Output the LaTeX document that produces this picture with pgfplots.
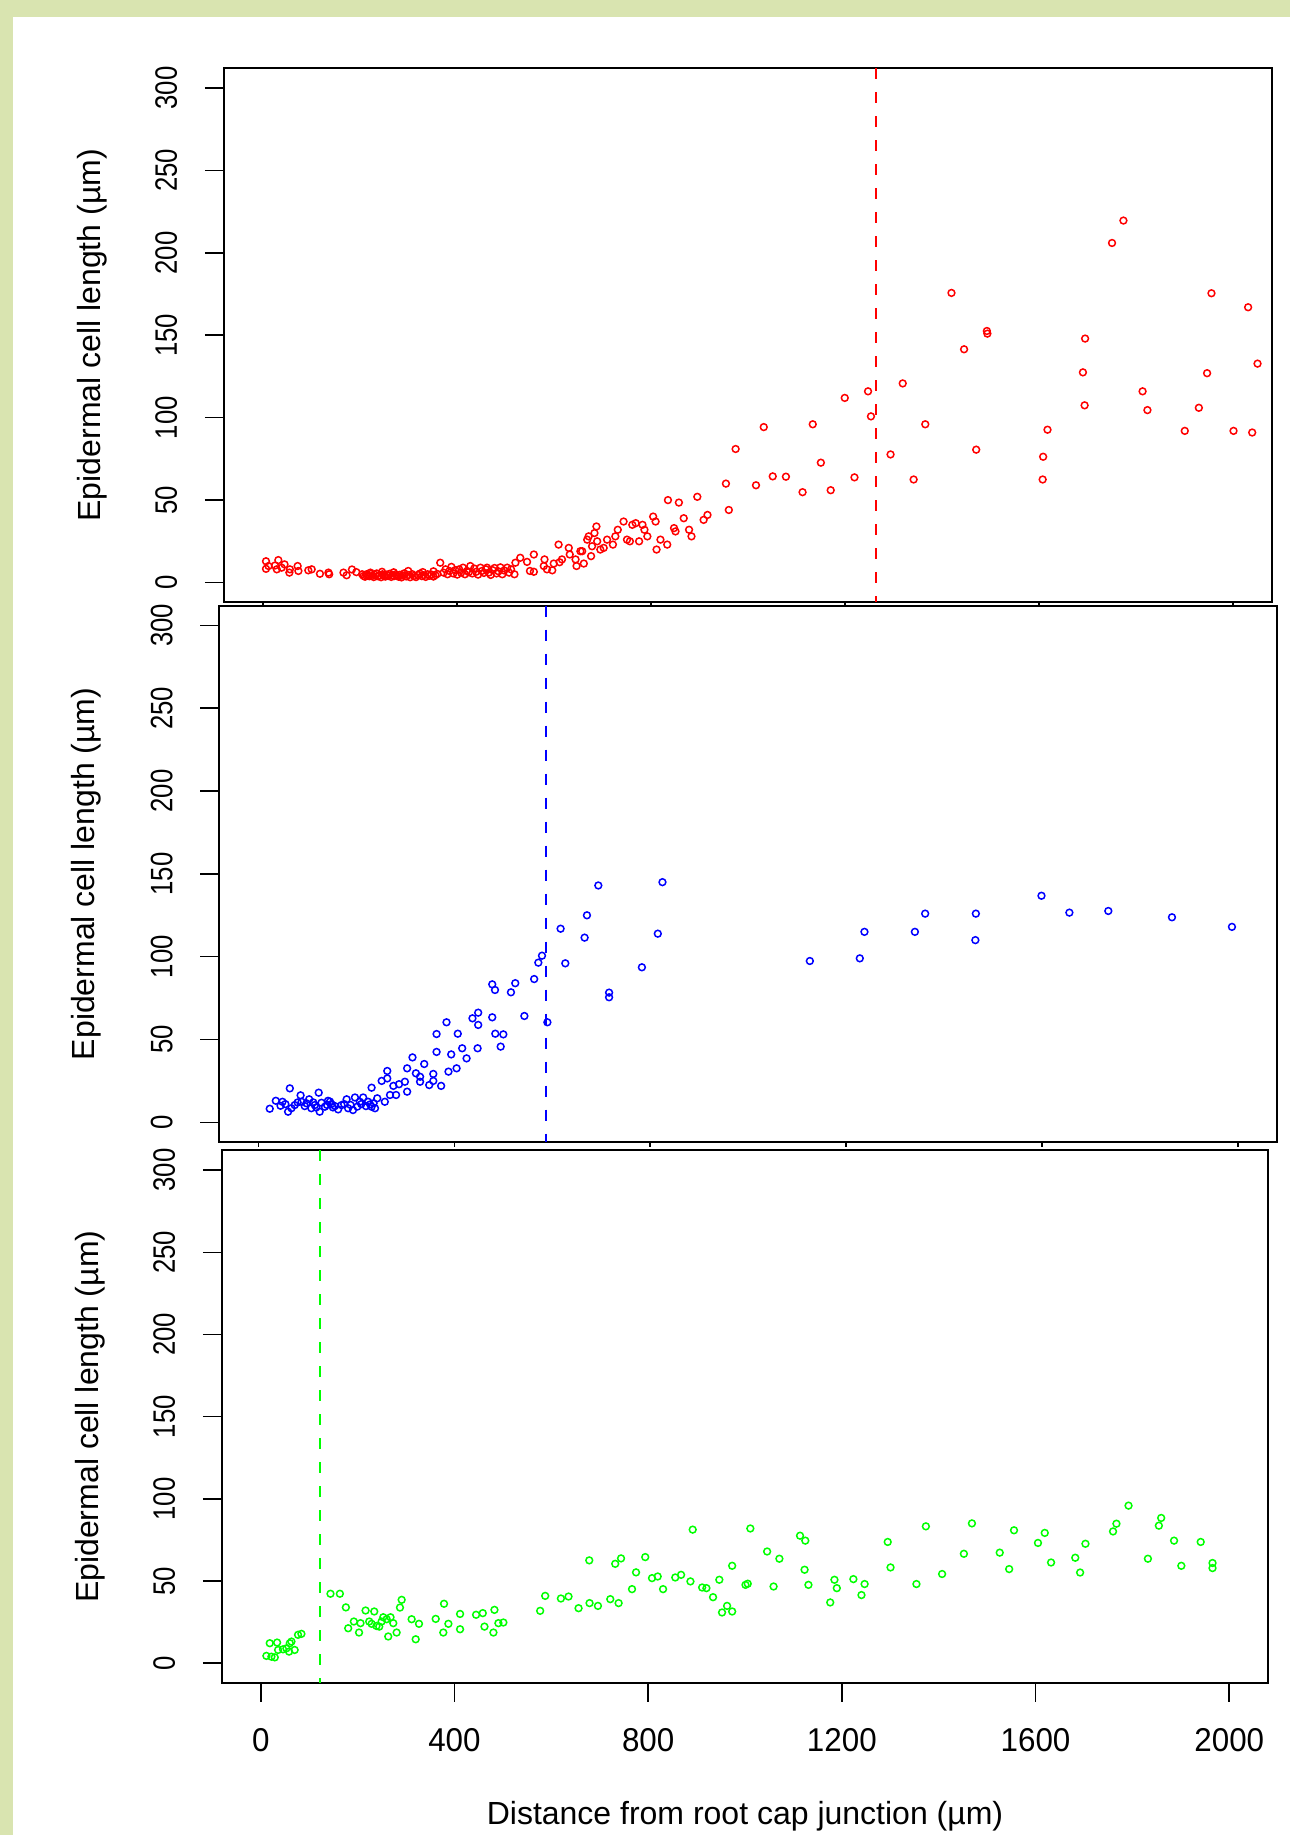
\documentclass[border=0pt]{standalone}
\usepackage{fontspec}
\setmainfont{Liberation Sans}
\newfontfamily\ytf[FakeStretch=0.83]{Liberation Sans}
\newfontfamily\xtf[FakeStretch=0.95]{Liberation Sans}
\usepackage{pgfplots}
\pgfplotsset{compat=1.18}
\definecolor{bgg}{RGB}{217,228,176}
\definecolor{rred}{RGB}{255,0,0}
\definecolor{bblue}{RGB}{0,0,255}
\definecolor{ggreen}{RGB}{0,255,0}
\pgfplotsset{
  panel/.style={
    scale only axis,
    xmin=-80, xmax=2080, ymin=-12, ymax=312,
    xtick={0,400,...,2000}, ytick={0,50,...,300},
    xtick pos=bottom, ytick pos=left,
    tick align=outside,
    major tick length=9.5pt,
    axis line style={line width=1pt},
    every tick/.style={black, line width=0.8pt},
    /pgf/number format/assume math mode=true,
    /pgf/number format/1000 sep={},
    yticklabel style={xshift=-14pt, rotate=90, anchor=base, font=\ytf\fontsize{15.5}{15.5}\selectfont},
    ylabel={Epidermal cell length (µm)},
    ylabel style={font=\fontsize{16}{16}\selectfont, anchor=base, at={(axis description cs:-0.118,0.5)}},
    clip marker paths=true,
  },
  pts/.style={only marks, mark=o, mark size=1.7pt, mark options={line width=0.75pt}},
}
\begin{document}
\begin{tikzpicture}
\fill[bgg] (0,0) rectangle (645pt,917.5pt);
\fill[white] (6.5pt,0) rectangle (645pt,909pt);
% ---------- panel 1 (red)
\begin{scope}
\clip (0,615.25pt) rectangle (645pt,917.5pt);
\begin{axis}[panel, at={(111.95pt,616.35pt)}, anchor=south west, width=523.85pt, height=267pt, xticklabels={}]
\addplot[pts, color=rred] coordinates {
(6.8,12.9) (6.8,8.3) (12,10) (25.4,10.3) (32.2,13.6) (29,8) (39,9) (45,11) (55,6) (56,8) (72,10) (73.6,7) (94,7.4) (101,8) (118,5.3) (135.5,6) (137,5) (166.5,6) (173,4.4) (184,7.9) (193,6.3)
(205,5) (208,4) (211,3.5) (214,5) (217,4.2) (220,3.8) (223,5.2) (226,4) (229,3.3) (232,4.6) (235,5.5) (238,3.8) (241,4.4) (244,3.2) (247,5) (250,4.1) (253,3.6) (256,4.8) (259,4) (262,5.3) (265,3.4) (268,4.4) (271,3.9) (274,5) (277,4.2) (280,3.5) (283,4.7) (286,3.1) (289,4.3) (292,5.6) (296,3.7) (300,4.5) (304,3.2) (308,5.1) (312,4) (316,3.3) (320,4.6) (324,5.4) (328,3.9) (332,4.4) (336,3.4) (340,5) (344,4.1) (348,4.8) (352,3.6) (356,4.5) (360,5.2)
(222,6) (246,6.5) (270,6.2) (300,7) (330,6.3) (352,6.8)
(366,12) (373,6) (377,8) (381,5) (385,7) (389,9.5) (393,5.5) (397,7.5) (401,4.8) (405,8) (409,6) (413,9) (417,5) (421,7) (425,6.3) (428,10) (432,5.5) (436,8.5) (440,6.5) (444,4.8) (449,9) (452,7) (456,5.8) (460,8) (462.5,9) (466,6) (470,4.6) (474,7.5) (478,8.8) (482,5.5) (486,6.8) (490,9.2) (494,5) (498,7.3) (504,9) (508,6) (512,8)
(519,5) (521,12) (531,15) (545,12.5) (551,7) (559,17) (559,6.5) (579.5,10) (581,14) (586,8) (597,7.4) (600,11.5) (610,23) (612,12.3) (617,14) (631,21) (633,17) (645,14) (647,10) (655,19) (658.6,19) (662,11.5) (669,26) (672,28) (677,16) (679,22) (684,30) (688,34) (689.6,25) (696,20) (703,21) (710,26) (722,23) (727,28) (732,32) (744,37) (751,26) (757,25) (762,35) (769,36) (776,25) (783,35) (787,32) (793,28) (805,40) (810,37) (812,20) (820,26) (834,23) (835.5,50) (848,33) (851,31) (858,48.5) (868,39) (879,32) (884,28) (896,52) (909,38) (917,41) (955,60) (961,44) (975,81) (1017,59)
(1033,94.3) (1051.5,64.4) (1078.7,64.2) (1113,54.8) (1134,96) (1150.7,72.7) (1171,56) (1200,112) (1220,63.8) (1248,116) (1254,100.8) (1294.4,77.7) (1319.5,120.8) (1342,62.5) (1366,96) (1420,175.7) (1446,141.5) (1471,80.6) (1493,152.6) (1494,151) (1608,62.5) (1609,76.3) (1618,92.7) (1691,127.5) (1694.5,107.5) (1695.5,148) (1751,206) (1774.5,219.6) (1814,116) (1824,104.6) (1901,92) (1930,106) (1947,127) (1956,175.5) (2001.5,92) (2031.6,167) (2040,91) (2051,132.8) (2082,76.3)
};
\addplot[rred, line width=1pt, dash pattern=on 5.5pt off 6.5pt] coordinates {(1265,312) (1265,-12)};
\end{axis}
\end{scope}
% ---------- panel 2 (blue)
\begin{scope}
\clip (0,344pt) rectangle (645pt,615.25pt);
\begin{axis}[panel, at={(109.65pt,346.4pt)}, anchor=south west, width=528.85pt, height=268.3pt, xticklabels={}]
\addplot[pts, color=bblue] coordinates {
(23,8.2) (35.4,13) (45,10) (49,12.4) (55,11) (60.5,6.4) (64,20.5) (67.3,8.5) (74,10.4) (80,12) (86,16.3) (88,12.4) (94.5,9.8) (98,11.5) (103.5,13.9) (108,8.5) (112,12) (115,10.4) (118,9) (123,17.9) (125,6.4) (128.7,11.8) (135.5,9.4) (140,10.5) (142,13) (146,12.5) (149,11) (152,9) (156,9.8) (162.7,7.8) (169.6,10.4) (175,11) (180,13.9) (183,8.5) (188,10.5) (193,7.4) (197,15) (202,9.5) (207,12.4) (210,11) (213.8,15) (219.5,9.8) (224,12.4) (228,10.8) (231,9.4) (231,20.9) (235,11.5) (238,8.5) (242.6,14.5)
(251.6,25) (258,12.4) (263,31) (263,26.5) (268.6,16.5) (275.5,22) (281,16.5) (287,23) (299,24.5) (303.6,32.6) (303.6,18.5) (314.5,39.2) (321.5,29.6) (330,24.5) (330,27.5) (338.5,35.2) (348.7,22.5) (357,29.2) (357,25) (363.7,53.3) (363.7,42.5) (373,22) (384,60.4) (388,30.6) (393.6,41) (404.6,32.6) (407,53.5) (416,44.7) (425,38.6) (437,62.8) (447.5,44.7) (448.7,66.2) (448.7,58.8) (477.4,83.3) (483,79.9) (477.4,63.4) (483.6,53.5) (500,53.1) (494.6,45.7) (515.6,78.5) (524.4,84) (543,64.2) (563,86.5) (571.5,96.4) (579,100.6) (590,60.4) (617,116.9) (626.6,96) (666,111.5) (670.8,125) (694,143) (716,78.3) (716,75.5) (783,93.6) (815.5,113.9) (825,145)
(1126,97.4) (1228,99) (1237.5,115) (1340.5,115) (1361.5,126) (1465,126) (1464,110) (1599,136.8) (1656,126.6) (1735.5,127.6) (1865.5,123.8) (1988,118)
};
\addplot[bblue, line width=1pt, dash pattern=on 5.5pt off 6.5pt] coordinates {(587,312) (587,-12)};
\end{axis}
\end{scope}
% ---------- panel 3 (green)
\begin{scope}
\clip (0,0) rectangle (645pt,344pt);
\begin{axis}[panel, at={(111pt,76pt)}, anchor=south west, width=523pt, height=266.3pt,
  xticklabel style={font=\xtf\fontsize{16.5}{16.5}\selectfont, anchor=base, yshift=-25pt},
  xlabel={Distance from root cap junction (µm)},
  xlabel style={font=\fontsize{16}{16}\selectfont, anchor=base, at={(axis description cs:0.5,-0.2666)}}]
\addplot[pts, color=ggreen] coordinates {
(18.6,12.2) (11.7,4.5) (22,4) (29,3.6) (33.8,12.6) (35.8,8.1) (46,8.5) (53,9.1) (60,12.2) (63.4,13.2) (58.5,7.1) (70,8.1) (77,17.3) (84,17.9)
(144,42.3) (163.4,42.3) (175.8,34) (180.6,21.3) (192.3,25.4) (203,18.7) (206,24.4) (216.5,32.1) (224,25.4) (229,24) (234.4,31.5) (239,22.7) (244.7,22.3) (249.6,25.4) (253,28) (260,26.8) (263.3,16.3) (268,28) (273.7,24.4) (280.6,18.7) (287.5,33.9) (291,38.6) (311.6,26.8) (320,14.6) (326.8,24) (361.3,27) (377,18.7) (378.5,36.2) (387.5,24) (411.6,30) (411.6,20.7) (444.7,29.5) (458.5,30.5) (462,22.3) (480.5,18.7) (482.6,32.5) (490.8,24.4) (501,24.8)
(577,31.9) (587.4,41) (619.8,39.4) (635.6,40.6) (656.3,33.5) (678.4,62.6) (679,36.6) (696.3,34.9) (721.8,39) (732,60.5) (744,63.8) (739,36.6) (766.7,45.1) (775,55.3) (794,64.6) (808,51.8) (819.7,52.8) (830.8,45.1) (856,52.2) (868,53.8) (887.3,49.8) (892,81.3) (911.5,46.1) (920.3,45.7) (934,40.2) (947,50.8) (952.6,30.9) (963,34.9) (973.5,31.5) (973.5,59.3) (1001,47.7) (1005.6,48.4) (1011,82)
(1045.7,68) (1059,46.7) (1071,63.6) (1113.6,77.6) (1124.5,74.6) (1123,56.9) (1131,47.7) (1176,37) (1184.7,50.8) (1189.6,45.7) (1223.8,51.2) (1240.5,41.5) (1247,48.2) (1294.7,73.8) (1300.5,58.3) (1354,48.2) (1373.5,83.3) (1407,54.3) (1452,66.6) (1468.6,85.1) (1526,67.3) (1545.5,57.3) (1555.5,80.9) (1605,73.2) (1619,79.3) (1632,61.3) (1682,64.2) (1692,55.2) (1703,72.7) (1760,80.2) (1767,84.9) (1792,95.9) (1832,63.6) (1854.6,83.7) (1859.4,88.4) (1886,74.6) (1901,59.3) (1941,73.8) (1965.4,61) (1965.4,57.9)
};
\addplot[ggreen, line width=1pt, dash pattern=on 5.5pt off 6.5pt] coordinates {(122,312) (122,-12)};
\end{axis}
\end{scope}
\pgfresetboundingbox
\path (0,0) rectangle (645pt,917.5pt);
\end{tikzpicture}
\end{document}
